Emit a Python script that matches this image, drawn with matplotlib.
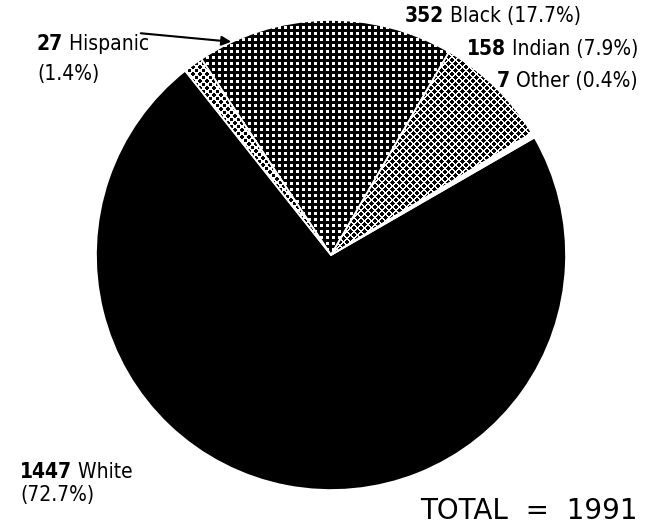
import matplotlib
matplotlib.use("Agg")
import matplotlib.pyplot as plt
import numpy as np

# ---- data ----
groups = ["White", "Hispanic", "Black", "Indian", "Other"]
counts = [1447, 27, 352, 158, 7]
percents = ["72.7%", "1.4%", "17.7%", "7.9%", "0.4%"]
total_label = "TOTAL  =  1991"

plt.rcParams['font.family'] = ["DejaVu Sans"]

W, H = 662, 527
fig = plt.figure(figsize=(W / 100, H / 100), dpi=100)
ax = fig.add_axes([0, 0, 1, 1])

# ---- halftone textures (styling only) ----
rr, cc = np.mgrid[0:H, 0:W].astype(float)

def square_dots(period, radius, dot_val, base_val):
    dx = (cc % period) - period / 2
    dy = (rr % period) - period / 2
    img = np.full((H, W), base_val, float)
    img[dx ** 2 + dy ** 2 <= radius ** 2] = dot_val
    return img

def diamond_dots(period, radius, dot_val, base_val):
    dx = cc % period
    dy = rr % period
    d_corner = np.minimum(dx, period - dx) ** 2 + np.minimum(dy, period - dy) ** 2
    d_center = (dx - period / 2) ** 2 + (dy - period / 2) ** 2
    img = np.full((H, W), base_val, float)
    img[np.minimum(d_corner, d_center) <= radius ** 2] = dot_val
    return img

textures = {
    "Black": square_dots(6, 1.6, 1.0, 0.0),
    "Indian": diamond_dots(7, 2.0, 0.0, 1.0),
    "Hispanic": diamond_dots(7, 1.8, 0.0, 1.0),
}
base = {"White": "black", "Hispanic": "white", "Black": "black",
        "Indian": "white", "Other": "white"}

# pie order counter-clockwise: Other, Indian, Black, Hispanic, White
order = [4, 3, 2, 1, 0]
vals = [counts[i] for i in order]
center = (331, H - 255)
radius = 235
wedges, _ = ax.pie(vals, startangle=30, counterclock=True,
                   center=center, radius=radius,
                   colors=[base[groups[i]] for i in order],
                   wedgeprops=dict(linewidth=0))
for w, i in zip(wedges, order):
    g = groups[i]
    if g in textures:
        im = ax.imshow(textures[g], cmap="gray", vmin=0, vmax=1,
                       extent=(0, W, 0, H), origin="upper",
                       interpolation="nearest", zorder=w.get_zorder() + 0.1)
        im.set_clip_path(w)

# thin white separations between slices
seps, _ = ax.pie(vals, startangle=30, counterclock=True,
                 center=center, radius=radius,
                 wedgeprops=dict(linewidth=1.2, edgecolor="white", fill=False))
for s in seps:
    s.set_zorder(5)

ax.set_xlim(0, W)
ax.set_ylim(0, H)
ax.set_aspect("auto")
ax.axis("off")

fs = 15
kw = dict(fontsize=fs, fontstretch="condensed")

def label_left(x, y, num, rest):
    t = ax.text(x, H - y, num, fontweight="bold", ha="left", va="baseline", **kw)
    ax.annotate(rest, xy=(1, 0), xycoords=t, ha="left", va="bottom", **kw)

def label_right(x, y, num, rest):
    t = ax.text(x, H - y, rest, ha="right", va="baseline", **kw)
    ax.annotate(num, xy=(0, 0), xycoords=t, fontweight="bold", ha="right", va="bottom", **kw)

label_left(405, 22, str(counts[2]), f" {groups[2]} ({percents[2]})")
label_right(638, 55, str(counts[3]), f" {groups[3]} ({percents[3]})")
label_right(638, 87, str(counts[4]), f" {groups[4]} ({percents[4]})")
label_left(37, 50, str(counts[1]), f" {groups[1]}")
ax.text(37, H - 80, f"({percents[1]})", ha="left", va="baseline", **kw)
label_left(20, 478, str(counts[0]), f" {groups[0]}")
ax.text(20, H - 501, f"({percents[0]})", ha="left", va="baseline", **kw)

ax.annotate("", xy=(234, H - 42), xytext=(138, H - 33),
            arrowprops=dict(arrowstyle="-|>", color="black", lw=1.5, mutation_scale=14),
            zorder=6)

ax.text(638, H - 519, total_label, fontsize=20, ha="right", va="baseline")

fig.savefig("out.png", dpi=100, facecolor="white")
